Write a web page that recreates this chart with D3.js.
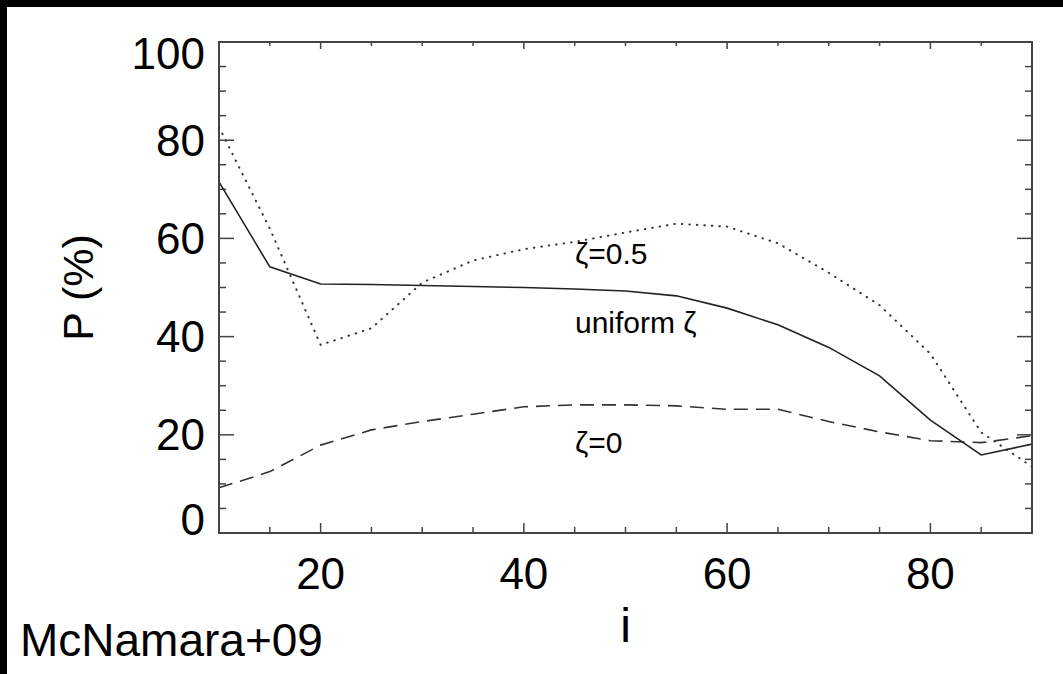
<!DOCTYPE html>
<html lang="en">
<head>
    <meta charset="UTF-8">
    <title>P vs i</title>
    <script src="https://d3js.org/d3.v7.min.js"></script>
    <style>
        html, body {
            margin: 0;
            padding: 0;
            background: #000;
            overflow: hidden;
        }
        svg text {
            font-family: "Liberation Sans", Arial, sans-serif;
            fill: #000;
        }
    </style>
</head>
<body>
    <div id="chart"></div>

    <script>
        // inclination angles (x)
        const incl = [10, 15, 20, 25, 30, 35, 40, 45, 50, 55, 60, 65, 70, 75, 80, 85, 90];

        // P (%) for each model
        const uniformZeta = [71.5, 54.2, 50.7, 50.6, 50.4, 50.2, 50.0, 49.7, 49.3, 48.3, 45.8, 42.4, 37.8, 32.0, 23.0, 15.9, 18.1];
        const zetaHalf   = [82.7, 62.0, 38.3, 41.7, 51.0, 55.5, 57.8, 59.3, 61.2, 63.0, 62.4, 59.0, 53.0, 46.4, 36.5, 20.5, 13.5];
        const zetaZero   = [9.2, 12.5, 17.9, 21.0, 22.7, 24.2, 25.7, 26.1, 26.1, 25.9, 25.2, 25.2, 22.7, 20.6, 18.8, 18.4, 19.8];

        const xTicks = [20, 40, 60, 80];
        const yTicks = [0, 20, 40, 60, 80, 100];

        const width = 1063;
        const height = 674;
        const margin = { top: 42, right: 31, bottom: 141, left: 219 };

        const svg = d3.select("#chart").append("svg")
            .attr("width", width)
            .attr("height", height);

        // black border on the top and left, white page
        svg.append("rect").attr("width", width).attr("height", height).attr("fill", "#000");
        svg.append("rect").attr("x", 7).attr("y", 7)
            .attr("width", width - 7).attr("height", height - 7).attr("fill", "#fff");

        const x = d3.scaleLinear().domain([10, 90]).range([margin.left, width - margin.right]);
        const y = d3.scaleLinear().domain([0, 100]).range([height - margin.bottom, margin.top]);

        const x0 = x.range()[0], x1 = x.range()[1];
        const y0 = y.range()[0], y1 = y.range()[1];

        // ticks, IDL style on all four sides
        const axisColor = "#444";
        const ticks = svg.append("g").attr("stroke", axisColor).attr("stroke-width", 1.5);

        d3.range(10, 91, 5).forEach(v => {
            const len = v % 20 === 0 ? 10 : 6;
            ticks.append("line").attr("x1", x(v)).attr("x2", x(v)).attr("y1", y0).attr("y2", y0 - len);
            ticks.append("line").attr("x1", x(v)).attr("x2", x(v)).attr("y1", y1).attr("y2", y1 + (v % 20 === 0 ? 7 : 4));
        });
        d3.range(0, 101, 5).forEach(v => {
            const len = v % 20 === 0 ? 15 : 7;
            ticks.append("line").attr("x1", x0).attr("x2", x0 + len).attr("y1", y(v)).attr("y2", y(v));
            ticks.append("line").attr("x1", x1).attr("x2", x1 - len).attr("y1", y(v)).attr("y2", y(v));
        });

        // series
        const line = d3.line()
            .x((d, i) => x(incl[i]))
            .y(d => y(d));

        const plot = svg.append("g");

        plot.append("path")
            .datum(zetaZero)
            .attr("fill", "none")
            .attr("stroke", "#333")
            .attr("stroke-width", 1.6)
            .attr("stroke-dasharray", "14,8")
            .attr("d", line);

        plot.append("path")
            .datum(zetaHalf)
            .attr("fill", "none")
            .attr("stroke", "#333")
            .attr("stroke-width", 2)
            .attr("stroke-linecap", "round")
            .attr("stroke-dasharray", "0.5,7")
            .attr("d", line);

        plot.append("path")
            .datum(uniformZeta)
            .attr("fill", "none")
            .attr("stroke", "#222")
            .attr("stroke-width", 1.6)
            .attr("d", line);

        // frame
        svg.append("rect")
            .attr("x", x0).attr("y", y1)
            .attr("width", x1 - x0).attr("height", y0 - y1)
            .attr("fill", "none")
            .attr("stroke", axisColor)
            .attr("stroke-width", 2);

        // tick labels
        svg.append("g").selectAll("text")
            .data(yTicks)
            .join("text")
            .attr("x", x0 - 14)
            .attr("y", d => Math.min(Math.max(y(d), y1 + 11), y0 - 14))
            .attr("text-anchor", "end")
            .attr("dominant-baseline", "central")
            .attr("font-size", 44)
            .text(d => d);

        svg.append("g").selectAll("text")
            .data(xTicks)
            .join("text")
            .attr("x", d => x(d))
            .attr("y", 589)
            .attr("text-anchor", "middle")
            .attr("font-size", 44)
            .text(d => d);

        // axis titles
        svg.append("text")
            .attr("x", (x0 + x1) / 2)
            .attr("y", 642)
            .attr("text-anchor", "middle")
            .attr("font-size", 48)
            .text("i");

        svg.append("text")
            .attr("transform", `translate(93, ${(y0 + y1) / 2}) rotate(-90)`)
            .attr("text-anchor", "middle")
            .attr("font-size", 43)
            .text("P (%)");

        // curve labels
        const notes = [
            { text: "ζ=0.5", x: 575, y: 264 },
            { text: "uniform ζ", x: 575, y: 333 },
            { text: "ζ=0", x: 575, y: 453 }
        ];
        svg.append("g").selectAll("text")
            .data(notes)
            .join("text")
            .attr("x", d => d.x)
            .attr("y", d => d.y)
            .attr("font-size", 30)
            .text(d => d.text);

        // citation
        svg.append("text")
            .attr("x", 20)
            .attr("y", 656)
            .attr("font-size", 46)
            .text("McNamara+09");
    </script>
</body>
</html>
